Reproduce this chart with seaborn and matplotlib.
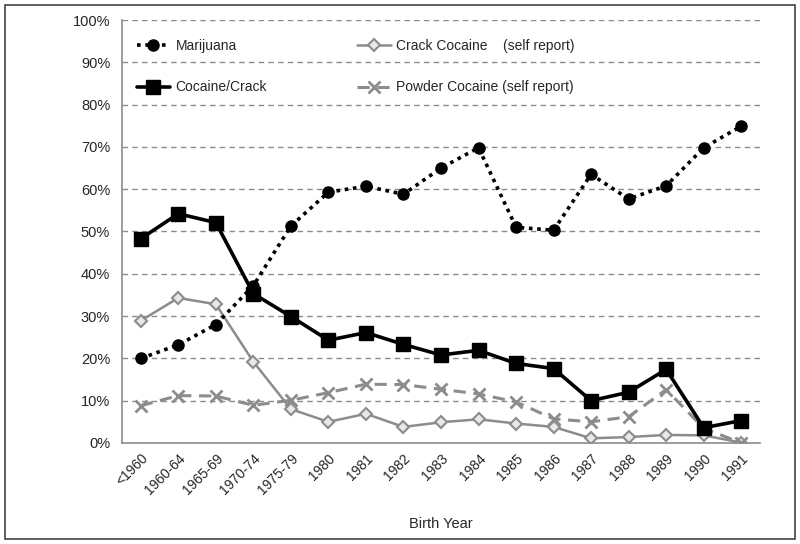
"""
Drug use by birth year cohort.
"""
import pandas as pd
import matplotlib
matplotlib.use('Agg')
import matplotlib.pyplot as plt
import seaborn as sns
from matplotlib.patches import Rectangle
from matplotlib.ticker import FixedLocator, PercentFormatter

# Data (percent)
birth_years = ['<1960', '1960-64', '1965-69', '1970-74', '1975-79', '1980', '1981',
               '1982', '1983', '1984', '1985', '1986', '1987', '1988', '1989', '1990', '1991']
marijuana = [20.0, 23.2, 28.0, 37.2, 51.3, 59.3, 60.7, 58.8, 65.0, 69.8,
             51.0, 50.3, 63.5, 57.7, 60.8, 69.8, 74.9]
cocaine_crack = [48.3, 54.2, 52.1, 35.3, 29.9, 24.3, 26.1, 23.3, 20.8, 21.9,
                 18.8, 17.6, 10.0, 12.0, 17.4, 3.6, 5.3]
crack_self = [28.9, 34.3, 32.8, 19.2, 8.0, 5.0, 6.9, 3.8, 4.9, 5.6,
              4.6, 3.8, 1.1, 1.4, 1.9, 1.8, 0.1]
powder_self = [8.8, 11.2, 11.1, 8.9, 10.1, 11.9, 13.9, 13.8, 12.7, 11.6,
               9.7, 5.7, 5.0, 6.2, 12.6, 3.5, 0.0]

df = pd.DataFrame({
    'pos': range(len(birth_years)),
    'Marijuana': marijuana,
    'Cocaine/Crack': cocaine_crack,
    'Crack Cocaine    (self report)': crack_self,
    'Powder Cocaine (self report)': powder_self,
})

sns.set_theme(style='white')
plt.rcParams['font.family'] = ['Liberation Sans', 'DejaVu Sans']

fig = plt.figure(figsize=(8, 5.44), dpi=100)
ax = fig.add_axes([0.1525, 0.1857, 0.7975, 0.7775])

grey = '#8c8c8c'
styles = {
    'Crack Cocaine    (self report)': dict(color=grey, lw=1.8, ls='-', marker='D', ms=6,
                                           mfc='#e8e8e8', mec=grey, mew=1.5),
    'Powder Cocaine (self report)': dict(color=grey, lw=2.2, ls=(0, (4, 2.5)), marker='x', ms=9,
                                         mec=grey, mew=2),
    'Cocaine/Crack': dict(color='black', lw=2.6, ls='-', marker='s', ms=10,
                          mfc='black', mec='black'),
    'Marijuana': dict(color='black', lw=2.6, ls=(0, (1, 1.3)), marker='o', ms=8,
                      mfc='black', mec='black'),
}
handles = {}
for name, st in styles.items():
    sns.lineplot(data=df, x='pos', y=name, ax=ax, color=st['color'], linewidth=st['lw'],
                 linestyle=st['ls'], marker=st['marker'], markersize=st['ms'],
                 markerfacecolor=st.get('mfc', st['color']), markeredgecolor=st['mec'],
                 markeredgewidth=st.get('mew', 1), label=name, legend=False)
    handles[name] = ax.lines[-1]

n = len(birth_years)
ax.set_xlim(-0.5, n - 0.5)
ax.set_ylim(0, 100)
ax.set_xticks(range(n))
ax.set_xticklabels(birth_years, rotation=45, ha='right', rotation_mode='anchor', fontsize=10)
ax.xaxis.set_minor_locator(FixedLocator([i - 0.5 for i in range(n + 1)]))
ax.tick_params(axis='x', which='major', length=0, pad=6)
ax.tick_params(axis='x', which='minor', length=5, width=1, color=grey, direction='out')
ax.set_yticks(range(0, 101, 10))
ax.yaxis.set_major_formatter(PercentFormatter(decimals=0))
ax.tick_params(axis='y', length=5, width=1, color=grey, direction='out', labelsize=10.5)
ax.set_xlabel('Birth Year', fontsize=10.5, labelpad=14)
ax.set_ylabel('')
for y in range(10, 101, 10):
    ax.axhline(y, color=grey, lw=1, ls=(0, (4, 3)), zorder=0)
for side in ['top', 'right']:
    ax.spines[side].set_visible(False)
for side in ['left', 'bottom']:
    ax.spines[side].set_color(grey)
    ax.spines[side].set_linewidth(1.2)

order = ['Marijuana', 'Cocaine/Crack', 'Crack Cocaine    (self report)', 'Powder Cocaine (self report)']
ax.legend([handles[k] for k in order], order, ncol=2, frameon=False, fontsize=10,
          loc='upper left', bbox_to_anchor=(0.155, 0.952), bbox_transform=fig.transFigure,
          labelspacing=2.0, columnspacing=6.5, handlelength=2.4, handletextpad=0.4)

fig.add_artist(Rectangle((0.006, 0.01), 0.988, 0.98, transform=fig.transFigure,
                         fill=False, edgecolor='#444444', lw=1.2))

fig.savefig('out.png', dpi=100)
